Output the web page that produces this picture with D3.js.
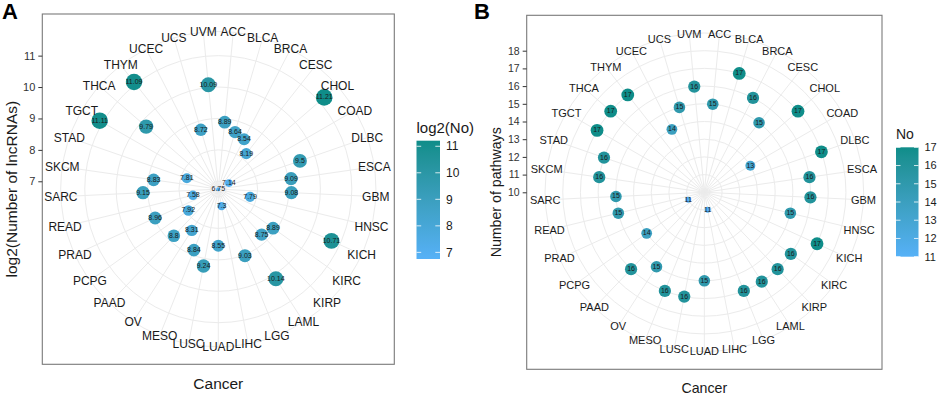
<!DOCTYPE html>
<html><head><meta charset="utf-8">
<script src="https://cdn.jsdelivr.net/npm/d3@7"></script>
<style>body{margin:0;background:#fff}svg{display:block;font-family:Arial,"Liberation Sans",sans-serif}</style>
</head><body><svg id="c" width="941" height="395"></svg>
<script>
// ---------- data ----------
const cancers = ["ACC","BLCA","BRCA","CESC","CHOL","COAD","DLBC","ESCA","GBM","HNSC","KICH","KIRC","KIRP","LAML","LGG","LIHC","LUAD","LUSC","MESO","OV","PAAD","PCPG","PRAD","READ","SARC","SKCM","STAD","TGCT","THCA","THYM","UCEC","UCS","UVM"];
const log2No = [8.89,8.64,8.54,8.19,11.21,7.14,9.5,9.09,9.08,7.79,10.71,8.89,8.75,10.14,9.03,7.3,8.55,9.24,8.84,8.31,8.8,7.92,8.96,7.58,9.15,8.83,7.81,11.11,9.79,11.09,6.75,8.72,10.09];
const pathwayNo = [15,17,16,15,17,13,17,16,16,15,17,16,16,16,16,11,15,16,16,15,16,14,11,15,15,16,16,17,17,17,14,15,16];
const ticksA = [7,8,9,10,11];
const ticksB = [10,11,12,13,14,15,16,17,18];
const legendTicksA = [7,8,9,10,11];
const legendTicksB = [11,12,13,14,15,16,17];

const svg = d3.select("#c");
const LOW = "#56B1F7", HIGH = "#0F8D89";

function drawPolar(o) {
  const g = svg.append("g");
  const w = o.x1 - o.x0, h = o.y1 - o.y0;
  const cx = (o.x0 + o.x1) / 2, cy = (o.y0 + o.y1) / 2;
  const S = Math.min(w, h);
  const R = 0.4 * S, RL = 0.45 * S;
  const theta = d3.scaleBand().domain(cancers).range([0, 2 * Math.PI]).padding(0);
  const ang = c => theta(c) + theta.bandwidth() / 2;
  const r = d3.scaleLinear().domain(o.rDomain).range([0, R]);
  const dmin = d3.min(o.values), dmax = d3.max(o.values);
  const col = d3.scaleLinear().domain([dmin, dmax]).range([LOW, HIGH]).interpolate(d3.interpolateLab);
  const sz = d3.scaleSqrt().domain([0, dmax - dmin]).range([0, o.rMax - o.rMin]);
  const rad = v => o.rMin + sz(v - dmin);

  const grid = g.append("g").attr("stroke", "#EBEBEB").attr("stroke-width", 1).attr("fill", "none");
  grid.selectAll("line").data(cancers).join("line")
    .attr("x1", cx).attr("y1", cy)
    .attr("x2", c => cx + RL * Math.sin(ang(c)))
    .attr("y2", c => cy - RL * Math.cos(ang(c)));
  const circ = o.ticks.map(t => r(t)).filter(v => v > 0.5).concat([RL]);
  grid.selectAll("circle").data(circ).join("circle")
    .attr("cx", cx).attr("cy", cy).attr("r", d => d);

  const pt = c => {
    const i = cancers.indexOf(c), v = o.values[i], a = ang(c), rr = r(v);
    return [cx + rr * Math.sin(a), cy - rr * Math.cos(a), v];
  };
  g.append("g").selectAll("circle").data(cancers).join("circle")
    .attr("cx", c => pt(c)[0]).attr("cy", c => pt(c)[1])
    .attr("r", c => rad(pt(c)[2]))
    .attr("fill", c => col(pt(c)[2]));
  g.append("g").selectAll("text").data(cancers).join("text")
    .attr("x", c => pt(c)[0]).attr("y", c => pt(c)[1] - 0.5)
    .attr("dy", "0.35em").attr("text-anchor", "middle")
    .attr("font-size", o.ptFont).attr("fill", "#1a1a1a")
    .text(c => String(pt(c)[2]));

  g.append("g").selectAll("text").data(cancers).join("text")
    .attr("x", c => cx + RL * Math.sin(ang(c)))
    .attr("y", c => cy - RL * Math.cos(ang(c)))
    .attr("dy", "0.35em").attr("text-anchor", "middle")
    .attr("font-size", o.catFont).attr("fill", "#1a1a1a")
    .text(c => c);

  g.append("rect").attr("x", o.x0).attr("y", o.y0).attr("width", w).attr("height", h)
    .attr("fill", "none").attr("stroke", "#7a7a7a").attr("stroke-width", 1.1);

  const y = d3.scaleLinear().domain(o.rDomain).range([cy, cy - R]);
  const ax = g.append("g").attr("transform", `translate(${o.x0},0)`)
    .call(d3.axisLeft(y).tickValues(o.ticks).tickSize(4).tickPadding(3).tickFormat(d3.format("d")));
  ax.select(".domain").remove();
  ax.selectAll(".tick line").attr("stroke", "#333");
  ax.selectAll(".tick text").attr("font-size", o.tickFont).attr("fill", "#333").attr("font-family", "Arial, Liberation Sans, sans-serif");

  g.append("text").attr("transform", `translate(${o.ytX},${cy}) rotate(-90)`)
    .attr("text-anchor", "middle").attr("dy", "0.35em")
    .attr("font-size", o.titleFont).attr("fill", "#1a1a1a").text(o.yTitle);
  g.append("text").attr("x", cx).attr("y", o.xtY).attr("text-anchor", "middle")
    .attr("font-size", o.titleFont).attr("fill", "#1a1a1a").text("Cancer");
  g.append("text").attr("x", o.tagX).attr("y", 19).attr("font-size", 22).attr("font-weight", "bold")
    .attr("fill", "#000").text(o.tag);

  const L = o.leg;
  const gid = "grad" + o.tag;
  const grad = svg.append("defs").append("linearGradient").attr("id", gid)
    .attr("x1", 0).attr("y1", 1).attr("x2", 0).attr("y2", 0);
  d3.range(0, 1.0001, 0.1).forEach(t => grad.append("stop").attr("offset", t)
    .attr("stop-color", col(dmin + t * (dmax - dmin))));
  const lg = svg.append("g");
  lg.append("text").attr("x", L.x).attr("y", L.titleY).attr("font-size", L.titleFont).attr("fill", "#1a1a1a").text(L.title);
  lg.append("rect").attr("x", L.x).attr("y", L.y0).attr("width", L.w).attr("height", L.y1 - L.y0).attr("fill", `url(#${gid})`);
  const ly = d3.scaleLinear().domain([dmin, dmax]).range([L.y1, L.y0]);
  L.ticks.forEach(t => {
    const yy = ly(t);
    lg.append("line").attr("x1", L.x).attr("x2", L.x + L.w / 5).attr("y1", yy).attr("y2", yy).attr("stroke", "#fff").attr("stroke-width", 0.8);
    lg.append("line").attr("x1", L.x + L.w * 4 / 5).attr("x2", L.x + L.w).attr("y1", yy).attr("y2", yy).attr("stroke", "#fff").attr("stroke-width", 0.8);
    lg.append("text").attr("x", L.x + L.w + 6).attr("y", yy).attr("dy", "0.35em").attr("font-size", L.tickFont).attr("fill", "#1a1a1a").text(t);
  });
}

drawPolar({
  tag: "A", tagX: 2, x0: 42.3, x1: 394.3, y0: 14, y1: 364.3,
  values: log2No, rDomain: [d3.min(log2No), d3.max(log2No)], ticks: ticksA,
  rMin: 2, rMax: 8.3, ptFont: 7, catFont: 12, tickFont: 11, titleFont: 15.5,
  yTitle: "log2(Number of lncRNAs)", ytX: 12, xtY: 389,
  leg: { x: 416.5, w: 23.5, y0: 140.7, y1: 259, title: "log2(No)", titleY: 133, titleFont: 15, tickFont: 12, ticks: legendTicksA }
});
drawPolar({
  tag: "B", tagX: 474, x0: 526.7, x1: 882, y0: 15.3, y1: 369.3,
  values: pathwayNo, rDomain: [10, 18], ticks: ticksB,
  rMin: 3, rMax: 6.4, ptFont: 7, catFont: 11, tickFont: 10.5, titleFont: 14.2,
  yTitle: "Number of pathways", ytX: 496.5, xtY: 392.5,
  leg: { x: 896, w: 22.5, y0: 147.3, y1: 256.7, title: "No", titleY: 139, titleFont: 14, tickFont: 11, ticks: legendTicksB }
});
</script></body></html>
